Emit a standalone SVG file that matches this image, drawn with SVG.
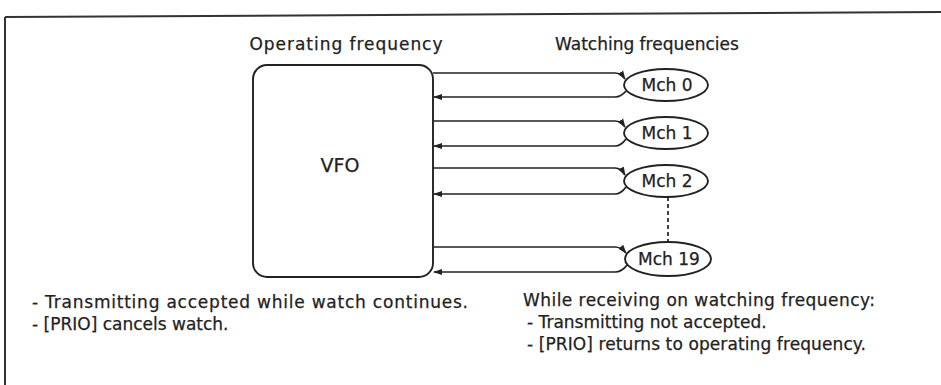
<svg xmlns="http://www.w3.org/2000/svg" width="941" height="385" viewBox="0 0 941 385">
<style>
text{font-family:"DejaVu Sans","Liberation Sans",sans-serif;fill:#222;stroke:#222;stroke-width:0.25}
.hd{font-size:17px}
.bt{font-size:17px}
.lbl{font-size:17px}
.ln{fill:none;stroke:#222;stroke-width:1.7}
.nd{fill:#fff;stroke:#222;stroke-width:1.9}
</style>
<defs>
<marker id="ah" viewBox="0 0 10 10" refX="9" refY="5" markerWidth="9" markerHeight="9" markerUnits="userSpaceOnUse" orient="auto">
<path d="M0,1.5 L10,5 L0,8.5 z" fill="#222"/>
</marker>
</defs>
<rect width="941" height="385" fill="#fff"/>
<g id="frame">
<path d="M5,17 L941,12" stroke="#333" stroke-width="2" fill="none"/>
<path d="M5,17 V385" stroke="#333" stroke-width="2" fill="none"/>
</g>
<g id="headings">
<text class="hd" x="346" y="50" text-anchor="middle" textLength="193">Operating frequency</text>
<text class="hd" x="555" y="50">Watching frequencies</text>
</g>
<g id="connectors">
<path class="ln" d="M433,73 H615 Q621,73 625,79" marker-end="url(#ah)"/>
<path class="ln" d="M626,91 Q621,97 615,97 H434" marker-end="url(#ah)"/>
<path class="ln" d="M433,121 H615 Q621,121 625,127" marker-end="url(#ah)"/>
<path class="ln" d="M626,139 Q621,146 615,146 H434" marker-end="url(#ah)"/>
<path class="ln" d="M433,168 H615 Q621,168 625,175" marker-end="url(#ah)"/>
<path class="ln" d="M626,187 Q621,194 615,194 H434" marker-end="url(#ah)"/>
<path class="ln" d="M433,247 H615 Q621,247 626,253" marker-end="url(#ah)"/>
<path class="ln" d="M627,265 Q622,272 615,272 H434" marker-end="url(#ah)"/>
<path class="ln" d="M668,197 V242" stroke-dasharray="4 3"/>
</g>
<g id="vfo">
<rect class="nd" x="253" y="65" width="180" height="212" rx="14"/>
<text x="340" y="172" text-anchor="middle" font-size="19">VFO</text>
</g>
<g id="mch0">
<ellipse class="nd" cx="666" cy="85" rx="42" ry="16"/>
<text class="lbl" x="667" y="91" text-anchor="middle">Mch 0</text>
</g>
<g id="mch1">
<ellipse class="nd" cx="666" cy="133" rx="42" ry="16"/>
<text class="lbl" x="667" y="139" text-anchor="middle">Mch 1</text>
</g>
<g id="mch2">
<ellipse class="nd" cx="666" cy="181" rx="42" ry="16"/>
<text class="lbl" x="667" y="187" text-anchor="middle">Mch 2</text>
</g>
<g id="mch19">
<ellipse class="nd" cx="668" cy="259" rx="43" ry="17"/>
<text class="lbl" x="669" y="265" text-anchor="middle">Mch 19</text>
</g>
<g id="notes-left">
<text class="bt" x="32" y="308" textLength="436">- Transmitting accepted while watch continues.</text>
<text class="bt" x="32" y="330">- [PRIO] cancels watch.</text>
</g>
<g id="notes-right">
<text class="bt" x="523" y="306" textLength="352">While receiving on watching frequency:</text>
<text class="bt" x="527" y="328">- Transmitting not accepted.</text>
<text class="bt" x="527" y="350" textLength="339">- [PRIO] returns to operating frequency.</text>
</g>
</svg>
